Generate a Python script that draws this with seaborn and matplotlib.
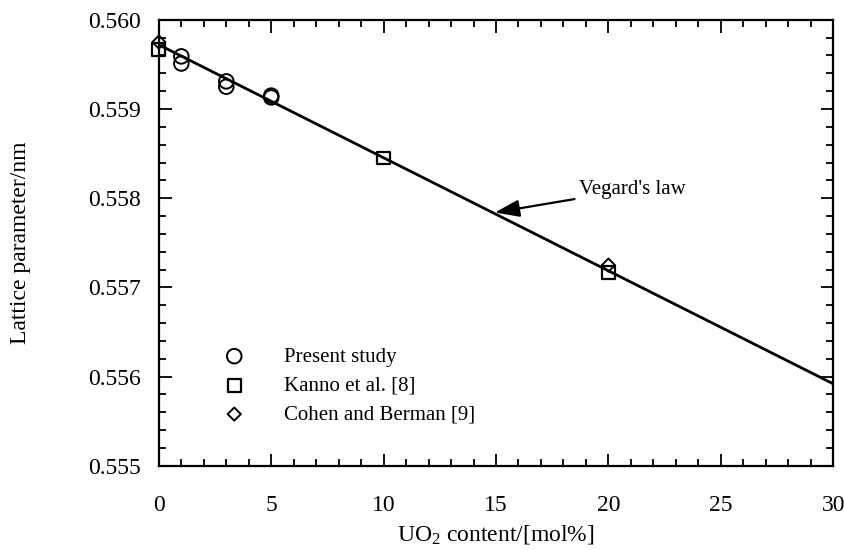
import matplotlib
matplotlib.use("Agg")
import matplotlib.pyplot as plt
import seaborn as sns
from matplotlib.ticker import MultipleLocator, FormatStrFormatter

# ---- data ----
present_x = [1, 1, 3, 3, 5, 5]
present_y = [0.55959, 0.55951, 0.55931, 0.55925, 0.55915, 0.55913]
kanno_x = [0, 10, 20]
kanno_y = [0.55967, 0.55845, 0.55717]
cohen_x = [0, 20]
cohen_y = [0.55975, 0.55725]
vegard_x = [0, 30]
vegard_y = [0.55972, 0.55592]

sns.set_theme(style="ticks")
plt.rcParams['font.family'] = ['Liberation Serif', 'DejaVu Serif']
plt.rcParams['mathtext.fontset'] = 'custom'
plt.rcParams['mathtext.rm'] = 'Liberation Serif'
plt.rcParams['mathtext.it'] = 'Liberation Serif:italic'

fig = plt.figure(figsize=(8.45, 5.5), dpi=100)
ax = fig.add_axes([0.188, 0.153, 0.798, 0.811])

sns.lineplot(x=vegard_x, y=vegard_y, ax=ax, color='black', lw=2.0, legend=False)

sns.scatterplot(x=present_x, y=present_y, ax=ax, marker='o', s=110,
                facecolors='none', edgecolor='black', linewidth=1.4,
                label='Present study', zorder=3, clip_on=False)
sns.scatterplot(x=kanno_x, y=kanno_y, ax=ax, marker='s', s=85,
                facecolors='none', edgecolor='black', linewidth=1.6,
                label='Kanno et al. [8]', zorder=3, clip_on=False)
sns.scatterplot(x=cohen_x, y=cohen_y, ax=ax, marker='D', s=45,
                facecolors='none', edgecolor='black', linewidth=1.4,
                label='Cohen and Berman [9]', zorder=3, clip_on=False)

ax.set_xlim(0, 30)
ax.set_ylim(0.555, 0.560)
ax.xaxis.set_major_locator(MultipleLocator(5))
ax.xaxis.set_minor_locator(MultipleLocator(1))
ax.yaxis.set_major_locator(MultipleLocator(0.001))
ax.yaxis.set_minor_locator(MultipleLocator(0.0002))
ax.yaxis.set_major_formatter(FormatStrFormatter('%.3f'))

ax.tick_params(which='both', direction='in', top=True, right=True,
               colors='black', labelsize=17, width=1.3)
ax.tick_params(which='major', length=9)
ax.tick_params(which='minor', length=5)
ax.tick_params(axis='y', which='major', pad=13)
ax.tick_params(axis='x', which='major', pad=21)
for sp in ax.spines.values():
    sp.set_linewidth(1.6)
    sp.set_color('black')

ax.set_xlabel('UO$_2$ content/[mol%]', fontsize=17, color='black')
ax.set_ylabel('Lattice parameter/nm', fontsize=17, color='black')
ax.xaxis.set_label_coords(0.5, -0.128)
ax.yaxis.set_label_coords(-0.19, 0.5)

ax.annotate("Vegard's law", xy=(14.95, 0.55784), xytext=(18.7, 0.55810),
            fontsize=15, va='center', ha='left', color='black',
            arrowprops=dict(arrowstyle='-|>,head_length=1.0,head_width=0.35',
                            color='black', lw=1.6, shrinkA=1, shrinkB=0))

leg = ax.legend(loc='upper left', bbox_to_anchor=(0.084, 0.285), frameon=False,
                fontsize=15, handletextpad=1.9, labelspacing=0.45,
                borderaxespad=0, handlelength=1.0)
for t in leg.get_texts():
    t.set_color('black')

fig.savefig('out.png', dpi=100)
